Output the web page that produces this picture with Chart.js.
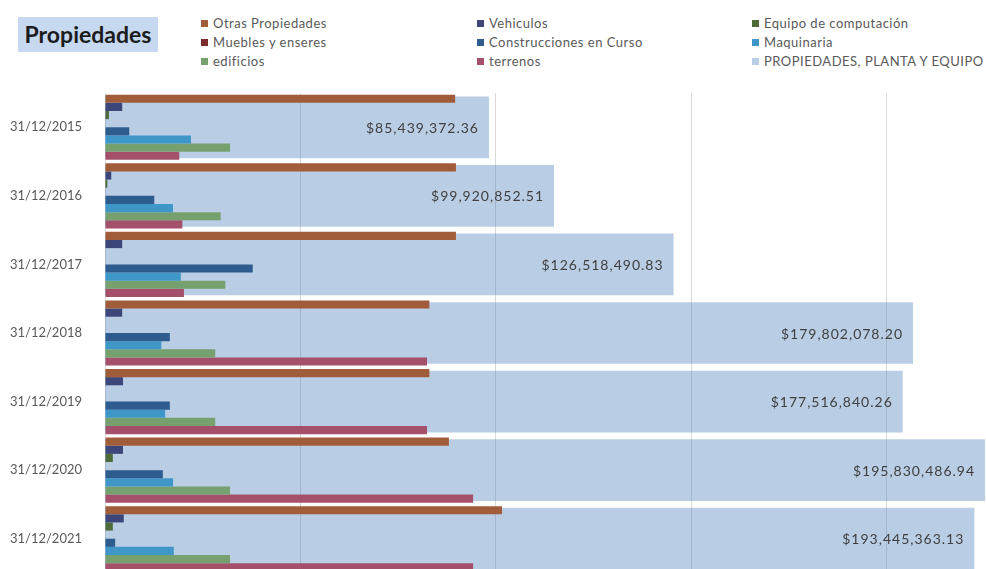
<!DOCTYPE html>
<html lang="es">
<head>
<meta charset="utf-8">
<title>Propiedades</title>
<script src="https://cdn.jsdelivr.net/npm/chart.js@4/dist/chart.umd.min.js"></script>
<style>
  html, body { margin: 0; padding: 0; background: #fff; overflow: hidden; width: 986px; height: 569px; }
  #titulo {
    position: absolute; left: 18px; top: 17px; width: 140px; height: 35px;
    background: #c6d9f1; color: #1c1c1c;
    font: bold 23px Lato, sans-serif; line-height: 35px; text-align: center;
  }
  #leyenda {
    position: absolute; left: 201px; top: 14px;
    display: grid; grid-template-columns: 276px 275px 240px;
    font: 13px Lato, sans-serif; color: #595959; letter-spacing: 0.5px;
  }
  #leyenda div { height: 19px; line-height: 19px; white-space: nowrap; }
  #leyenda span { display: inline-block; width: 7px; height: 7px; margin-right: 5px; vertical-align: middle; position: relative; top: -1px; }
  #grafico { position: absolute; left: 0; top: 0; }
</style>
</head>
<body>
<div id="titulo">Propiedades</div>
<div id="leyenda"></div>
<canvas id="grafico" width="1100" height="600"></canvas>
<script>
// fechas de corte
const fechas = ['31/12/2015', '31/12/2016', '31/12/2017', '31/12/2018', '31/12/2019', '31/12/2020', '31/12/2021'];

// cuentas individuales (millones, eje principal)
const otrasPropiedades = [44.8, 44.9, 44.9, 41.5, 41.5, 44.0, 50.8];
const vehiculos = [2.2, 0.8, 2.2, 2.2, 2.3, 2.3, 2.4];
const equipoComputacion = [0.5, 0.3, 0, 0, 0, 1.0, 1.0];
const mueblesEnseres = [0, 0, 0, 0, 0, 0, 0];
const construcciones = [3.1, 6.3, 18.9, 8.3, 8.3, 7.4, 1.3];
const maquinaria = [11.0, 8.7, 9.7, 7.2, 7.7, 8.7, 8.8];
const edificios = [16.0, 14.8, 15.4, 14.1, 14.1, 16.0, 16.0];
const terrenos = [9.5, 9.9, 10.1, 41.2, 41.2, 47.1, 47.1];

// total propiedades, planta y equipo (eje secundario)
const totalPPE = [85439372.36, 99920852.51, 126518490.83, 179802078.20, 177516840.26, 195830486.94, 193445363.13];

const series = [
  { label: 'Otras Propiedades', data: otrasPropiedades, color: '#a15c3a' },
  { label: 'Vehiculos', data: vehiculos, color: '#3c4678' },
  { label: 'Equipo de computación', data: equipoComputacion, color: '#4f6b3a' },
  { label: 'Muebles y enseres', data: mueblesEnseres, color: '#7b2c2c' },
  { label: 'Construcciones en Curso', data: construcciones, color: '#2e5c8e' },
  { label: 'Maquinaria', data: maquinaria, color: '#3f97c8' },
  { label: 'edificios', data: edificios, color: '#76a06e' },
  { label: 'terrenos', data: terrenos, color: '#a4506a' }
];

const datasets = series.map(s => ({
  label: s.label,
  data: s.data,
  backgroundColor: s.color,
  borderWidth: 0,
  barPercentage: 1,
  categoryPercentage: 0.95,
  xAxisID: 'x',
  order: 0
}));

datasets.push({
  label: 'PROPIEDADES, PLANTA Y EQUIPO',
  data: totalPPE,
  backgroundColor: 'rgba(79, 129, 189, 0.4)',
  borderWidth: 0,
  grouped: false,
  barPercentage: 0.9,
  categoryPercentage: 1,
  xAxisID: 'x2',
  order: 1
});

function moneda(v) {
  return '$' + v.toLocaleString('en-US', { minimumFractionDigits: 2, maximumFractionDigits: 2 });
}

// montos escritos dentro de la barra del total
const etiquetasTotal = {
  id: 'etiquetasTotal',
  afterDatasetsDraw(chart) {
    const meta = chart.getDatasetMeta(datasets.length - 1);
    const ctx = chart.ctx;
    ctx.save();
    ctx.font = '14px Lato';
    ctx.letterSpacing = '1px';
    ctx.fillStyle = '#404040';
    ctx.textAlign = 'right';
    ctx.textBaseline = 'middle';
    meta.data.forEach((bar, i) => {
      ctx.fillText(moneda(totalPPE[i]), bar.x - 10, bar.y + 1);
    });
    ctx.restore();
  }
};

const chart = new Chart(document.getElementById('grafico'), {
  type: 'bar',
  data: { labels: fechas, datasets: datasets },
  options: {
    indexAxis: 'y',
    responsive: false,
    animation: false,
    devicePixelRatio: 1,
    layout: { padding: { top: 93, right: 18, bottom: 27, left: 0 } },
    plugins: { legend: { display: false }, tooltip: { enabled: false } },
    scales: {
      y: {
        grid: { display: false },
        border: { display: false },
        ticks: { color: '#595959', font: { family: 'Lato', size: 13 }, padding: 15 },
        afterFit: s => { s.width = 105; }
      },
      x: {
        type: 'linear',
        position: 'bottom',
        min: 0,
        max: 125,
        ticks: { display: false, stepSize: 25 },
        grid: { color: '#d9d9d9', drawTicks: false },
        border: { display: false },
        afterFit: s => { s.height = 0; }
      },
      x2: {
        type: 'linear',
        position: 'top',
        display: false,
        min: 0,
        max: 217.4e6
      }
    }
  },
  plugins: [etiquetasTotal]
});

// leyenda en tres columnas
const leyenda = document.getElementById('leyenda');
chart.data.datasets.forEach(ds => {
  const item = document.createElement('div');
  const cuadro = document.createElement('span');
  cuadro.style.background = ds.backgroundColor;
  item.appendChild(cuadro);
  item.appendChild(document.createTextNode(ds.label));
  leyenda.appendChild(item);
});
</script>
</body>
</html>
